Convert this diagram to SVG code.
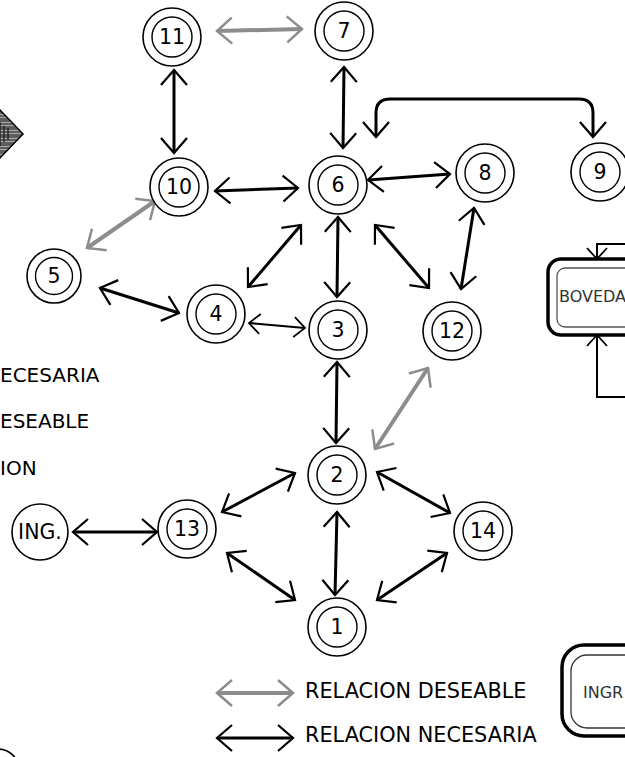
<svg xmlns="http://www.w3.org/2000/svg" width="625" height="757" viewBox="0 0 625 757">
<style>
.o{fill:#fff;stroke:#000;stroke-width:1.6}
.i{fill:none;stroke:#000;stroke-width:1.4}
.t{font-family:"DejaVu Sans",Verdana,sans-serif;font-size:20.5px;fill:#000;text-anchor:middle}
.lg{font-family:"DejaVu Sans",Verdana,sans-serif;font-size:20.8px;fill:#000}
.bx{font-family:"DejaVu Sans","Liberation Sans",sans-serif;font-size:16px;fill:#333;font-weight:normal}
.k{fill:none;stroke:#000;stroke-width:3;marker-start:url(#hb);marker-end:url(#hb)}
.kt{fill:none;stroke:#000;stroke-width:2;marker-start:url(#hs);marker-end:url(#hs)}
.g{fill:none;stroke:#8c8c8c;stroke-width:4;marker-start:url(#hg);marker-end:url(#hg)}
</style>
<defs>
<marker id="hb" markerUnits="userSpaceOnUse" markerWidth="1" markerHeight="1" refX="0" refY="0" orient="auto-start-reverse" overflow="visible"><path d="M-15,-13 L0,0 L-15,13" fill="none" stroke="#000" stroke-width="2.2"/></marker>
<marker id="hs" markerUnits="userSpaceOnUse" markerWidth="1" markerHeight="1" refX="0" refY="0" orient="auto-start-reverse" overflow="visible"><path d="M-11,-10 L0,0 L-11,10" fill="none" stroke="#000" stroke-width="1.8"/></marker>
<marker id="hg" markerUnits="userSpaceOnUse" markerWidth="1" markerHeight="1" refX="0" refY="0" orient="auto-start-reverse" overflow="visible"><path d="M-15,-13 L0,0 L-15,13" fill="none" stroke="#8c8c8c" stroke-width="2.5"/></marker>
<pattern id="hatch" patternUnits="userSpaceOnUse" width="8" height="8"><rect width="8" height="8" fill="#aaa"/><path d="M0,1 H8 M0,4 H8 M0,7 H8" stroke="#000" stroke-width="0.9"/></pattern>
</defs>
<rect width="625" height="757" fill="#fff"/>

<g id="diamond">
<polygon points="0,110 23,134 0,158 -23,134" fill="url(#hatch)" stroke="#000" stroke-width="1.5"/>
<path d="M0,122 V146 M4,126 V142 M8,128 V140" stroke="#000" stroke-width="1"/>
</g>

<g id="connectors">
<line class="k" x1="174" y1="70" x2="174" y2="153"/>
<line class="k" x1="215" y1="191" x2="298" y2="188"/>
<line class="k" x1="344" y1="67" x2="343" y2="148"/>
<line class="k" x1="368" y1="180" x2="450" y2="174"/>
<line class="k" x1="100" y1="288" x2="179" y2="313"/>
<line class="k" x1="301" y1="225" x2="248" y2="287"/>
<line class="kt" x1="249" y1="323" x2="305" y2="328"/>
<line class="k" x1="338" y1="217" x2="337" y2="297"/>
<line class="k" x1="375" y1="225" x2="429" y2="288"/>
<line class="k" x1="474" y1="208" x2="461" y2="289"/>
<line class="k" x1="337" y1="362" x2="336" y2="443"/>
<line class="k" x1="295" y1="473" x2="222" y2="512"/>
<line class="k" x1="73" y1="532" x2="157" y2="532"/>
<line class="k" x1="227" y1="553" x2="295" y2="600"/>
<line class="k" x1="377" y1="472" x2="450" y2="513"/>
<line class="k" x1="337" y1="512" x2="335" y2="595"/>
<line class="k" x1="447" y1="553" x2="377" y2="600"/>
<path class="k" d="M376,137 L376,113 Q376,99 390,99 L579,99 Q593,99 593,113 L593,137"/>
<line class="g" x1="217" y1="31" x2="302" y2="29"/>
<line class="g" x1="155" y1="201" x2="87" y2="248"/>
<line class="g" x1="428" y1="368" x2="375" y2="449"/>
<path d="M626,244 L597,244 L597,259" fill="none" stroke="#000" stroke-width="2" marker-end="url(#hs)"/>
<path d="M626,397 L597,397 L597,335" fill="none" stroke="#000" stroke-width="2" marker-end="url(#hs)"/>
<line class="g" x1="217" y1="693" x2="293" y2="693"/>
<line class="k" x1="217" y1="738" x2="293" y2="738"/>
</g>

<g id="n11"><circle class="o" cx="172" cy="37" r="29"/><circle class="i" cx="172" cy="37" r="20"/><text class="t" x="172" y="44">11</text></g>
<g id="n7"><circle class="o" cx="344" cy="31" r="29"/><circle class="i" cx="344" cy="31" r="20"/><text class="t" x="344" y="38">7</text></g>
<g id="n10"><circle class="o" cx="179" cy="187" r="29"/><circle class="i" cx="179" cy="187" r="20"/><text class="t" x="179" y="194">10</text></g>
<g id="n6"><circle class="o" cx="338" cy="185" r="29"/><circle class="i" cx="338" cy="185" r="20"/><text class="t" x="338" y="192">6</text></g>
<g id="n8"><circle class="o" cx="485" cy="173" r="29"/><circle class="i" cx="485" cy="173" r="20"/><text class="t" x="485" y="180">8</text></g>
<g id="n9"><circle class="o" cx="600" cy="172" r="29"/><circle class="i" cx="600" cy="172" r="20"/><text class="t" x="600" y="179">9</text></g>
<g id="n5"><circle class="o" cx="54" cy="276" r="27"/><circle class="i" cx="54" cy="276" r="18.5"/><text class="t" x="54" y="283">5</text></g>
<g id="n4"><circle class="o" cx="216" cy="314" r="29"/><circle class="i" cx="216" cy="314" r="20"/><text class="t" x="216" y="321">4</text></g>
<g id="n3"><circle class="o" cx="338" cy="330" r="29"/><circle class="i" cx="338" cy="330" r="20"/><text class="t" x="338" y="337">3</text></g>
<g id="n12"><circle class="o" cx="452" cy="331" r="29"/><circle class="i" cx="452" cy="331" r="20"/><text class="t" x="452" y="338">12</text></g>
<g id="n2"><circle class="o" cx="337" cy="475" r="29"/><circle class="i" cx="337" cy="475" r="20"/><text class="t" x="337" y="482">2</text></g>
<g id="n13"><circle class="o" cx="187" cy="529" r="29"/><circle class="i" cx="187" cy="529" r="20"/><text class="t" x="187" y="536">13</text></g>
<g id="n14"><circle class="o" cx="483" cy="531" r="29"/><circle class="i" cx="483" cy="531" r="20"/><text class="t" x="483" y="538">14</text></g>
<g id="n1"><circle class="o" cx="337" cy="627" r="29"/><circle class="i" cx="337" cy="627" r="20"/><text class="t" x="337" y="634">1</text></g>
<g id="ing"><circle class="o" cx="40" cy="532" r="28"/><text class="t" x="40" y="539">ING.</text></g>
<g id="corner-node"><circle class="o" cx="-2" cy="770" r="21"/></g>

<g id="boveda">
<rect x="548" y="259" width="100" height="76" rx="13" fill="#fff" stroke="#000" stroke-width="3.5"/>
<rect x="557" y="268" width="90" height="59" rx="8" fill="none" stroke="#555" stroke-width="1.3"/>
<text class="bx" x="559" y="302">BOVEDA</text>
</g>
<g id="ingreso">
<rect x="562" y="645" width="100" height="91" rx="22" fill="#fff" stroke="#000" stroke-width="3.5"/>
<rect x="571" y="655" width="90" height="73" rx="16" fill="none" stroke="#333" stroke-width="1.3"/>
<text class="bx" x="583" y="698">INGR</text>
</g>

<g id="legend">
<text class="lg" x="0" y="382" style="font-size:20px">ECESARIA</text>
<text class="lg" x="0" y="428" style="font-size:20px">ESEABLE</text>
<text class="lg" x="0" y="475" style="font-size:20px">ION</text>
<text class="lg" x="305" y="698">RELACION DESEABLE</text>
<text class="lg" x="305" y="742">RELACION NECESARIA</text>
</g>
</svg>
